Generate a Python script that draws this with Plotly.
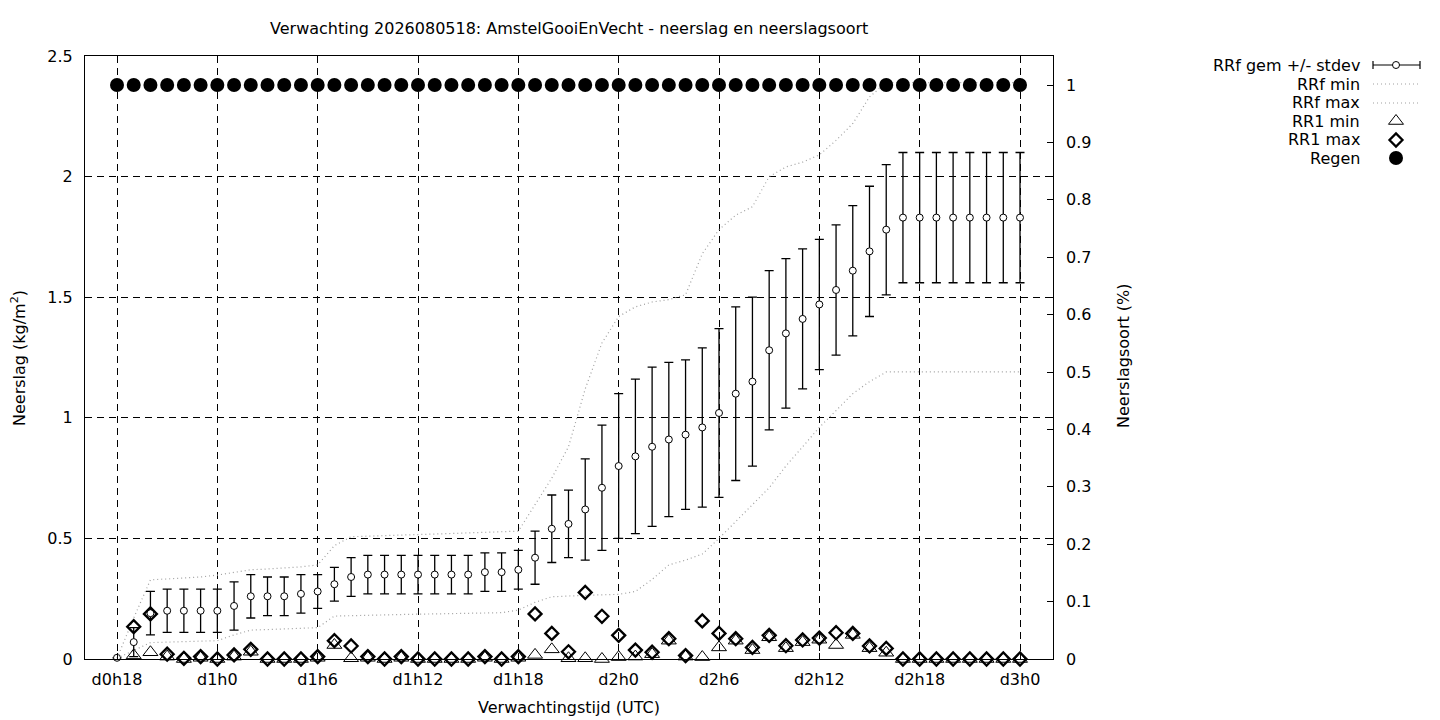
import plotly.graph_objects as go

# ---------------- data ----------------
hours = list(range(55))  # hours after d0h18
tick_vals = [0, 6, 12, 18, 24, 30, 36, 42, 48, 54]
tick_text = ['d0h18', 'd1h0', 'd1h6', 'd1h12', 'd1h18', 'd2h0', 'd2h6', 'd2h12', 'd2h18', 'd3h0']

rrf_mean = [0.005, 0.07, 0.19, 0.20, 0.20, 0.20, 0.20, 0.22, 0.26, 0.26,
            0.26, 0.27, 0.28, 0.31, 0.34, 0.35, 0.35, 0.35, 0.35, 0.35,
            0.35, 0.35, 0.36, 0.36, 0.37, 0.42, 0.54, 0.56, 0.62, 0.71,
            0.80, 0.84, 0.88, 0.91, 0.93, 0.96, 1.02, 1.10, 1.15, 1.28,
            1.35, 1.41, 1.47, 1.53, 1.61, 1.69, 1.78, 1.83, 1.83, 1.83,
            1.83, 1.83, 1.83, 1.83, 1.83]
rrf_std = [0.0, 0.06, 0.09, 0.09, 0.09, 0.09, 0.09, 0.10, 0.09, 0.08,
           0.08, 0.08, 0.07, 0.07, 0.08, 0.08, 0.08, 0.08, 0.08, 0.08,
           0.08, 0.08, 0.08, 0.08, 0.08, 0.11, 0.14, 0.14, 0.21, 0.26,
           0.30, 0.32, 0.33, 0.32, 0.31, 0.33, 0.35, 0.36, 0.35, 0.33,
           0.31, 0.29, 0.27, 0.27, 0.27, 0.27, 0.27, 0.27, 0.27, 0.27,
           0.27, 0.27, 0.27, 0.27, 0.27]
rrf_min = [0.003, 0.035, 0.068, 0.070, 0.072, 0.074, 0.076, 0.100, 0.120, 0.122,
           0.124, 0.126, 0.130, 0.178, 0.180, 0.181, 0.182, 0.184, 0.186, 0.187,
           0.188, 0.189, 0.190, 0.192, 0.203, 0.235, 0.258, 0.262, 0.264, 0.266,
           0.268, 0.280, 0.330, 0.390, 0.410, 0.435, 0.500, 0.570, 0.640, 0.710,
           0.800, 0.880, 0.960, 1.030, 1.100, 1.150, 1.190, 1.190, 1.190, 1.190,
           1.190, 1.190, 1.190, 1.190, 1.190]
rrf_max = [0.003, 0.170, 0.328, 0.332, 0.336, 0.340, 0.348, 0.360, 0.370, 0.373,
           0.377, 0.382, 0.390, 0.470, 0.507, 0.510, 0.512, 0.514, 0.516, 0.518,
           0.520, 0.522, 0.525, 0.527, 0.530, 0.640, 0.750, 0.880, 1.120, 1.310,
           1.420, 1.460, 1.480, 1.490, 1.510, 1.680, 1.780, 1.840, 1.875, 2.000,
           2.040, 2.060, 2.090, 2.150, 2.220, 2.330, 2.390, 2.390, 2.390, 2.390,
           2.390, 2.390, 2.390, 2.390, 2.390]
rr1_min = [None, 0.015, 0.028, 0.010, 0.0, 0.005, 0.0, 0.010, 0.030, 0.0,
           0.0, 0.0, 0.005, 0.058, 0.003, 0.005, 0.0, 0.005, 0.0, 0.0,
           0.0, 0.0, 0.005, 0.0, 0.005, 0.017, 0.040, 0.003, 0.003, 0.0,
           0.008, 0.010, 0.020, 0.076, 0.010, 0.008, 0.048, 0.076, 0.037, 0.090,
           0.045, 0.070, 0.080, 0.058, 0.100, 0.045, 0.026, 0.0, 0.0, 0.0,
           0.0, 0.0, 0.0, 0.0, 0.0]
rr1_max = [None, 0.134, 0.187, 0.020, 0.003, 0.010, 0.0, 0.017, 0.040, 0.0,
           0.0, 0.0, 0.010, 0.076, 0.054, 0.010, 0.0, 0.010, 0.0, 0.0,
           0.0, 0.0, 0.010, 0.0, 0.010, 0.187, 0.106, 0.030, 0.276, 0.177,
           0.098, 0.037, 0.028, 0.084, 0.014, 0.158, 0.106, 0.084, 0.048, 0.098,
           0.055, 0.079, 0.087, 0.109, 0.106, 0.054, 0.044, 0.0, 0.0, 0.0,
           0.0, 0.0, 0.0, 0.0, 0.0]
regen = [1.0] * 55

title = 'Verwachting 2026080518: AmstelGooiEnVecht - neerslag en neerslagsoort'
legend_labels = ['RRf gem +/- stdev', 'RRf min', 'RRf max', 'RR1 min', 'RR1 max', 'Regen']

# ---------------- layout helpers ----------------
W, H = 1440, 720
FONT = 'DejaVu Sans'
FS = 16
def px(x):
    return x / W
def py(y):
    return 1 - y / H

L, R, T, B = 85, 1053, 56, 659
hour_px = (1020 - 117) / 54
xr = [(L - 117) / hour_px, (R - 117) / hour_px]
grey = '#a0a0a0'

fig = go.Figure()

fig.add_trace(go.Scatter(
    x=hours, y=rrf_mean, mode='markers', name=legend_labels[0],
    error_y=dict(type='data', array=rrf_std, visible=True, color='black', thickness=1.3, width=4.5),
    marker=dict(symbol='circle', size=7, color='white', line=dict(color='black', width=1)),
    cliponaxis=False, showlegend=False))
fig.add_trace(go.Scatter(
    x=hours, y=rrf_min, mode='lines', name=legend_labels[1],
    line=dict(color=grey, width=1.2, dash='1px,3px'), showlegend=False))
fig.add_trace(go.Scatter(
    x=hours, y=rrf_max, mode='lines', name=legend_labels[2],
    line=dict(color=grey, width=1.2, dash='1px,3px'), showlegend=False))
fig.add_trace(go.Scatter(
    x=hours, y=rr1_min, mode='markers', name=legend_labels[3],
    marker=dict(symbol='triangle-up-open', size=13, color='black', line=dict(color='black', width=1)),
    cliponaxis=False, showlegend=False))
fig.add_trace(go.Scatter(
    x=hours, y=rr1_max, mode='markers', name=legend_labels[4],
    marker=dict(symbol='diamond-open', size=10, color='black', line=dict(color='black', width=2.3)),
    cliponaxis=False, showlegend=False))
fig.add_trace(go.Scatter(
    x=hours, y=regen, mode='markers', name=legend_labels[5], yaxis='y2',
    marker=dict(symbol='circle', size=14, color='black'),
    cliponaxis=False, showlegend=False))

# ---------------- manual legend (gnuplot style) ----------------
leg_rows = [65, 84, 103, 121, 140, 158]
lx0, lx1, lxc = 1373, 1420, 1396
lg = dict(xaxis='x3', yaxis='y3', showlegend=False, hoverinfo='skip', cliponaxis=False)
fig.add_trace(go.Scatter(x=[lx0, lx1], y=[leg_rows[0]] * 2, mode='lines',
                         line=dict(color='black', width=1.2), **lg))
fig.add_trace(go.Scatter(x=[lx0, lx0, None, lx1, lx1],
                         y=[leg_rows[0] - 4, leg_rows[0] + 4, None, leg_rows[0] - 4, leg_rows[0] + 4],
                         mode='lines', line=dict(color='black', width=1.2), **lg))
fig.add_trace(go.Scatter(x=[lxc], y=[leg_rows[0]], mode='markers',
                         marker=dict(symbol='circle', size=7, color='white', line=dict(color='black', width=1)), **lg))
for r in (leg_rows[1], leg_rows[2]):
    fig.add_trace(go.Scatter(x=[lx0, lx1], y=[r, r], mode='lines',
                             line=dict(color=grey, width=1.2, dash='1px,3px'), **lg))
fig.add_trace(go.Scatter(x=[lxc], y=[leg_rows[3]], mode='markers',
                         marker=dict(symbol='triangle-up-open', size=13, color='black', line=dict(width=1)), **lg))
fig.add_trace(go.Scatter(x=[lxc], y=[leg_rows[4]], mode='markers',
                         marker=dict(symbol='diamond-open', size=10, color='black', line=dict(width=2.3)), **lg))
fig.add_trace(go.Scatter(x=[lxc], y=[leg_rows[5]], mode='markers',
                         marker=dict(symbol='circle', size=14, color='black'), **lg))

annotations = [
    dict(text=title, x=px((L + R) / 2), y=py(29), xref='paper', yref='paper',
         xanchor='center', yanchor='middle', showarrow=False, font=dict(size=FS)),
    dict(text='Verwachtingstijd (UTC)', x=px((L + R) / 2), y=py(707), xref='paper', yref='paper',
         xanchor='center', yanchor='middle', showarrow=False, font=dict(size=FS)),
    dict(text='Neerslag (kg/m<sup>2</sup>)', x=px(18), y=py(358), xref='paper', yref='paper',
         xanchor='center', yanchor='middle', showarrow=False, textangle=-90, font=dict(size=FS)),
    dict(text='Neerslagsoort (%)', x=px(1123), y=py(356), xref='paper', yref='paper',
         xanchor='center', yanchor='middle', showarrow=False, textangle=-90, font=dict(size=FS)),
]
for lab, r in zip(legend_labels, leg_rows):
    annotations.append(dict(text=lab, x=px(1362), y=py(r), xref='paper', yref='paper',
                            xanchor='right', yanchor='middle', showarrow=False, font=dict(size=FS)))

grid = dict(showgrid=True, gridcolor='black', gridwidth=1, griddash='7px,5px', zeroline=False)

fig.update_layout(
    template='none',
    width=W, height=H, margin=dict(l=0, r=0, t=0, b=0, pad=0, autoexpand=False),
    paper_bgcolor='white', plot_bgcolor='white',
    font=dict(family=FONT, size=FS, color='black'),
    showlegend=False,
    xaxis=dict(domain=[px(L), px(R)], range=xr, tickvals=tick_vals, ticktext=tick_text,
               automargin=False,
               showline=True, linecolor='black', linewidth=1, mirror='ticks',
               ticks='inside', ticklen=6, tickcolor='black', ticklabelstandoff=6, **grid),
    yaxis=dict(domain=[py(B), py(T)], range=[0, 2.5], tickvals=[0, 0.5, 1, 1.5, 2, 2.5],
               ticktext=['0', '0.5', '1', '1.5', '2', '2.5'], automargin=False,
               showline=True, linecolor='black', linewidth=1, mirror='ticks',
               ticks='inside', ticklen=6, tickcolor='black', ticklabelstandoff=8, **grid),
    yaxis2=dict(overlaying='y', side='right', anchor='x', range=[0, (B - T) / (B - 85)],
                tickvals=[0, 0.1, 0.2, 0.3, 0.4, 0.5, 0.6, 0.7, 0.8, 0.9, 1.0],
                ticktext=['0', '0.1', '0.2', '0.3', '0.4', '0.5', '0.6', '0.7', '0.8', '0.9', '1'],
                showgrid=False, zeroline=False, showline=False, automargin=False,
                ticks='inside', ticklen=6, tickcolor='black', ticklabelstandoff=12),
    xaxis3=dict(domain=[px(1360), px(1430)], range=[1360, 1430], visible=False, anchor='y3'),
    yaxis3=dict(domain=[py(170), py(55)], range=[170, 55], visible=False, anchor='x3'),
    annotations=annotations,
)

fig.write_html('out.html', config={'displayModeBar': False},
               post_script="document.body.style.margin='0px';")
